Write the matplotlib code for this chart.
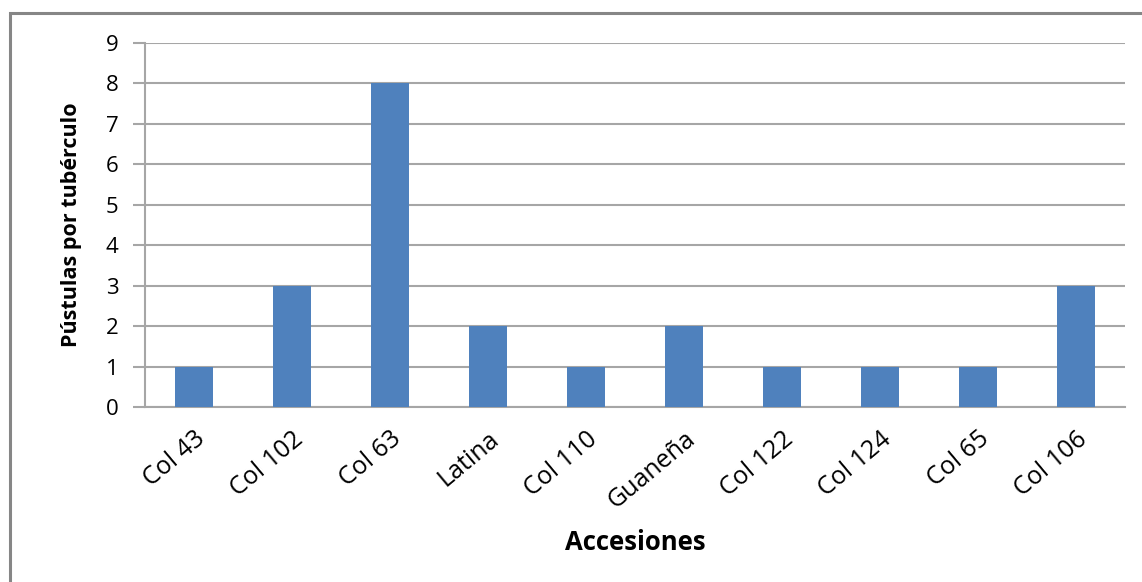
import matplotlib
matplotlib.use("Agg")
import matplotlib.pyplot as plt
import matplotlib.transforms as mtransforms
from matplotlib.patches import Rectangle

accesiones = ["Col 43", "Col 102", "Col 63", "Latina", "Col 110",
              "Guaneña", "Col 122", "Col 124", "Col 65", "Col 106"]
pustulas = [1, 3, 8, 2, 1, 2, 1, 1, 1, 3]
y_ticks = list(range(0, 10))

plt.rcParams["font.family"] = ["Open Sans", "DejaVu Sans"]

fig = plt.figure(figsize=(11.42, 5.82), dpi=100)
fig.patch.set_facecolor("white")

# chart frame
fig.patches.append(Rectangle((10 / 1142, -0.05), 1.2, (1 - 13 / 582) + 0.05,
                             transform=fig.transFigure, fill=False,
                             edgecolor="#868686", linewidth=2.2, zorder=0))

ax = fig.add_axes([145 / 1142, 1 - 407 / 582, 980 / 1142, (407 - 43) / 582])

x = list(range(len(accesiones)))
ax.bar(x, pustulas, width=0.39, color="#4F81BD", zorder=3)

ax.set_xlim(-0.5, len(accesiones) - 0.5)
ax.set_ylim(0, 9)
ax.set_yticks(y_ticks)
ax.set_yticklabels([str(v) for v in y_ticks], fontsize=16)
ax.yaxis.grid(True, color="#A6A6A6", linewidth=1.5, zorder=0)
ax.set_axisbelow(True)

for side in ["top", "right"]:
    ax.spines[side].set_visible(False)
ax.spines["left"].set_color("#A6A6A6")
ax.spines["left"].set_linewidth(1.5)
ax.spines["bottom"].set_color("#A6A6A6")
ax.spines["bottom"].set_linewidth(1.5)

ax.tick_params(axis="y", direction="out", length=9, width=1.5, color="#A6A6A6",
               pad=10, labelcolor="black")
ax.tick_params(axis="x", length=0, pad=14)
ax.set_xticks(x)
ax.set_xticklabels(accesiones, rotation=40, ha="right", va="top",
                   rotation_mode="anchor", fontsize=18)

ax.set_ylabel("Pústulas por tubérculo", fontsize=15.5, fontweight="bold", va="center")
ax.yaxis.set_label_coords((72 - 145) / 980, 0.5)
ax.set_xlabel("Accesiones", fontsize=18.5, fontweight="bold", va="center")
ax.xaxis.set_label_coords(0.5, (407 - 543) / 364)

fig.savefig("out.png", dpi=100, facecolor="white")
